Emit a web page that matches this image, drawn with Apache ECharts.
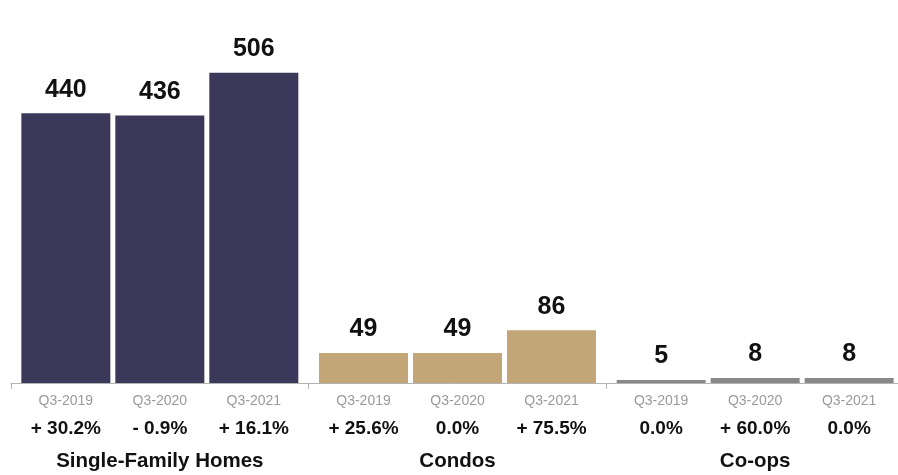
<!DOCTYPE html>
<html>
<head>
<meta charset="utf-8">
<style>
  html, body { margin: 0; padding: 0; background: #ffffff; }
  #chart { width: 898px; height: 475px; }
</style>
<script src="https://cdn.jsdelivr.net/npm/echarts@6/dist/echarts.min.js"></script>
</head>
<body>
<div id="chart"></div>
<script>
// Property types along the x axis
const groups = ['Single-Family Homes', 'Condos', 'Co-ops'];
// Periods shown inside each property type
const periods = ['Q3-2019', 'Q3-2020', 'Q3-2021'];

// Sales count per property type, one array per period
const salesQ3_2019 = [440, 49, 5];
const salesQ3_2020 = [436, 49, 8];
const salesQ3_2021 = [506, 86, 8];

// Year-over-year change, one array per property type (in period order)
const changeSingleFamily = ['+ 30.2%', '- 0.9%', '+ 16.1%'];
const changeCondos = ['+ 25.6%', '0.0%', '+ 75.5%'];
const changeCoops = ['0.0%', '+ 60.0%', '0.0%'];

const groupColors = ['#3b3859', '#c2a677', '#888888'];
const FONT = '"Liberation Sans", Arial, Helvetica, sans-serif';

const changesByGroup = [changeSingleFamily, changeCondos, changeCoops];
const salesByPeriod = [salesQ3_2019, salesQ3_2020, salesQ3_2021];

const chart = echarts.init(document.getElementById('chart'), null, { renderer: 'canvas' });

const series = periods.map((period, pi) => ({
  name: period,
  type: 'bar',
  barWidth: 89,
  barGap: '5.6%',
  data: salesByPeriod[pi].map((v, gi) => ({
    value: v,
    itemStyle: { color: groupColors[gi] }
  })),
  label: {
    show: true,
    position: 'top',
    distance: 11,
    fontFamily: FONT,
    fontSize: 25,
    fontWeight: 'bold',
    color: '#111111'
  },
  emphasis: { disabled: true },
  animation: false
}));

chart.setOption({
  animation: false,
  grid: { left: 11, width: 893, top: 15, bottom: 92, containLabel: false, outerBoundsMode: 'none' },
  xAxis: {
    type: 'category',
    data: groups,
    boundaryGap: true,
    axisLine: { show: true, lineStyle: { color: '#b3b3b3', width: 1 } },
    axisTick: { show: true, length: 6, lineStyle: { color: '#b3b3b3' } },
    axisLabel: {
      interval: 0,
      margin: 5,
      fontFamily: FONT,
      formatter: (name, idx) => {
        const line1 = periods.map(p => '{y|' + p + '}').join('');
        const line2 = changesByGroup[idx].map(c => '{p|' + c + '}').join('');
        return line1 + '\n' + line2 + '\n{g|' + name + '}';
      },
      rich: {
        y: { width: 94, align: 'center', fontFamily: FONT, fontSize: 14, color: '#9a9a9a', lineHeight: 26 },
        p: { width: 94, align: 'center', fontFamily: FONT, fontSize: 19, fontWeight: 'bold', color: '#111111', lineHeight: 30 },
        g: { align: 'center', fontFamily: FONT, fontSize: 20.5, fontWeight: 'bold', color: '#111111', lineHeight: 35 }
      }
    }
  },
  yAxis: {
    type: 'value',
    min: 0,
    max: 600,
    show: false,
    splitLine: { show: false }
  },
  series: series
});
</script>
</body>
</html>
